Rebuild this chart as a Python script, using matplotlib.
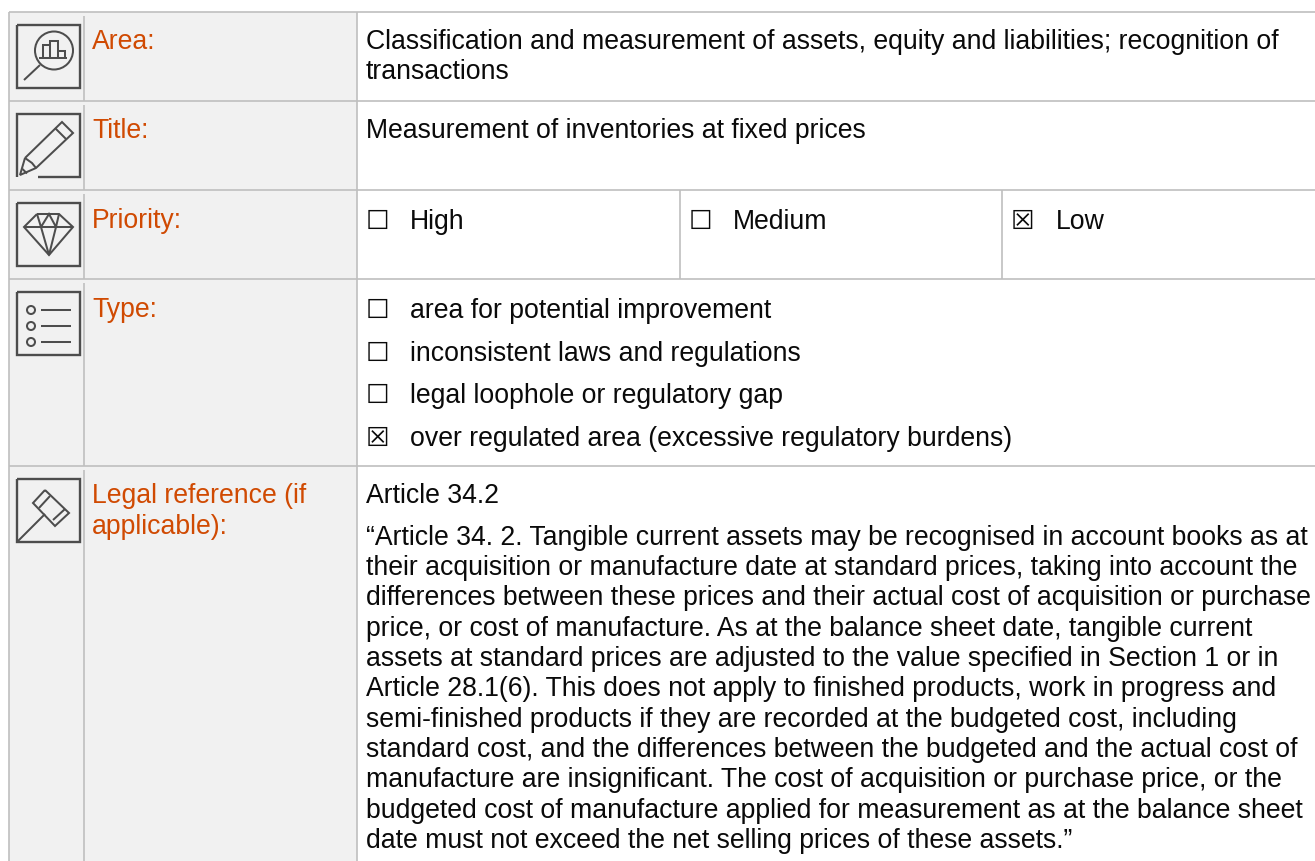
import matplotlib
matplotlib.use("Agg")
import matplotlib.pyplot as plt
from matplotlib.patches import Rectangle, Circle

W, H = 1315, 861
ACCENT = "#d04a02"
GRID = "#bfbfbf"
PANEL = "#f1f1f1"
ICON = "#4d4d4d"
TEXT = "#0a0a0a"
FONT = "Liberation Sans"
SIZE = 19.2
BOX_SIZE = 19.0

row_labels = ["Area:", "Title:", "Priority:", "Type:", "Legal reference (if", "applicable):"]
label_baselines = [49, 138, 228, 317, 503, 534]
area_lines = ["Classification and measurement of assets, equity and liabilities; recognition of", "transactions"]
area_baselines = [49, 79]
title_text = "Measurement of inventories at fixed prices"
title_baseline = 138
priority_labels = ["High", "Medium", "Low"]
priority_checked = [False, False, True]
priority_box_x = [368, 691, 1013]
priority_text_x = [410, 733, 1056]
priority_baseline = 229
type_labels = ["area for potential improvement", "inconsistent laws and regulations",
               "legal loophole or regulatory gap", "over regulated area (excessive regulatory burdens)"]
type_checked = [False, False, False, True]
type_baselines = [318, 361, 403, 446]
legal_head = "Article 34.2"
legal_head_baseline = 503
legal_lines = [
    "\u201cArticle 34. 2. Tangible current assets may be recognised in account books as at",
    "their acquisition or manufacture date at standard prices, taking into account the",
    "differences between these prices and their actual cost of acquisition or purchase",
    "price, or cost of manufacture. As at the balance sheet date, tangible current",
    "assets at standard prices are adjusted to the value specified in Section 1 or in",
    "Article 28.1(6). This does not apply to finished products, work in progress and",
    "semi-finished products if they are recorded at the budgeted cost, including",
    "standard cost, and the differences between the budgeted and the actual cost of",
    "manufacture are insignificant. The cost of acquisition or purchase price, or the",
    "budgeted cost of manufacture applied for measurement as at the balance sheet",
    "date must not exceed the net selling prices of these assets.\u201d",
]
legal_baselines = [545, 575, 605, 636, 666, 696, 727, 757, 787, 818, 848]

row_lines = [12, 101, 190, 279, 466]
col_lines = [9, 84, 357]
priority_dividers = [680, 1002]
icon_tops = [25, 114, 203, 292, 479]

fig = plt.figure(figsize=(W / 100, H / 100), dpi=100, facecolor="white")
ax = fig.add_axes([0, 0, 1, 1])
ax.set_xlim(0, W)
ax.set_ylim(H, 0)
ax.axis("off")

ax.add_patch(Rectangle((col_lines[0], row_lines[0]), col_lines[2] - col_lines[0], H - row_lines[0],
                       fc=PANEL, ec="none", zorder=0))
for y in row_lines:
    ax.plot([col_lines[0], W], [y, y], color=GRID, lw=1.2, zorder=1, solid_capstyle="butt")
starts = row_lines
ends = row_lines[1:] + [H]
for x in col_lines:
    for s, e in zip(starts, ends):
        gap = 4 if x == col_lines[1] else 0
        ax.plot([x, x], [s + gap, e], color=GRID, lw=1.2, zorder=1, solid_capstyle="butt")
for x in priority_dividers:
    ax.plot([x, x], [row_lines[2], row_lines[3]], color=GRID, lw=1.2, zorder=1, solid_capstyle="butt")


def line(pts, lw=1.45, close=False):
    xs = [p[0] for p in pts]
    ys = [p[1] for p in pts]
    if close:
        xs.append(xs[0])
        ys.append(ys[0])
    ax.plot(xs, ys, color=ICON, lw=lw, solid_joinstyle="miter", solid_capstyle="butt", zorder=3)


def frame(top, skip=False):
    l, r, b = 17, 80, top + 62.5
    if skip:
        line([(l, b), (l, top), (r, top), (r, b), (38, b)], lw=1.7)
    else:
        line([(l, top), (r, top), (r, b), (l, b)], lw=1.7, close=True)


# Icon 1: magnifier over a bar chart
t = icon_tops[0]
frame(t)
ax.add_patch(Circle((54, t + 25.5), 19, fc="none", ec=ICON, lw=1.45, zorder=3))
line([(39, t + 32.5), (67, t + 32.5)])
line([(43.5, t + 32.5), (43.5, t + 20), (50, t + 20), (50, t + 32.5)])
line([(50, t + 20), (50, t + 15.5), (58.5, t + 15.5), (58.5, t + 32.5)])
line([(58.5, t + 25.5), (65, t + 25.5), (65, t + 32.5)])
line([(24, t + 55), (40, t + 40)])

# Icon 2: pencil
t = icon_tops[1]
frame(t, skip=True)
line([(25, 158), (62, 122), (73, 133), (36, 168), (20, 175)], close=True)
line([(55, 128), (66, 139)])
line([(25, 158), (32, 163), (36, 168)])
line([(22.5, 169), (27, 173.5)])

# Icon 3: diamond
t = icon_tops[2]
frame(t)
line([(37, 214), (59, 214), (73, 227), (49, 255), (24, 227)], close=True)
line([(24, 227), (73, 227)])
line([(37, 214), (41, 227), (49, 214), (56, 227), (59, 214)])
line([(41, 227), (49, 255), (56, 227)])

# Icon 4: list
t = icon_tops[3]
frame(t)
for y in (310, 326, 342):
    ax.add_patch(Circle((31, y), 4, fc="none", ec=ICON, lw=1.45, zorder=3))
    line([(41, y), (71, y)])

# Icon 5: gavel
t = icon_tops[4]
frame(t)
line([(18, 541), (45, 514)])
line([(45, 490), (69, 513), (55, 526), (33, 503)], close=True)
line([(39, 508), (50, 496)])
line([(53, 520), (65, 509)])


def txt(x, y, s, color=TEXT, size=SIZE, family=FONT):
    ax.text(x, y, s, color=color, fontsize=size, family=family, va="baseline", ha="left", zorder=4)


def box(x, y, checked):
    txt(x - 2.5, y, "\u2612" if checked else "\u2610", size=BOX_SIZE, family="DejaVu Sans")


for s, y in zip(row_labels, label_baselines):
    txt(92, y, s, color=ACCENT)
for s, y in zip(area_lines, area_baselines):
    txt(366, y, s)
txt(366, title_baseline, title_text)
for s, c, bx, tx in zip(priority_labels, priority_checked, priority_box_x, priority_text_x):
    box(bx, priority_baseline, c)
    txt(tx, priority_baseline, s)
for s, c, y in zip(type_labels, type_checked, type_baselines):
    box(368, y, c)
    txt(410, y, s)
txt(366, legal_head_baseline, legal_head)
for s, y in zip(legal_lines, legal_baselines):
    txt(366, y, s)

fig.savefig("out.png", dpi=100, facecolor="white")
